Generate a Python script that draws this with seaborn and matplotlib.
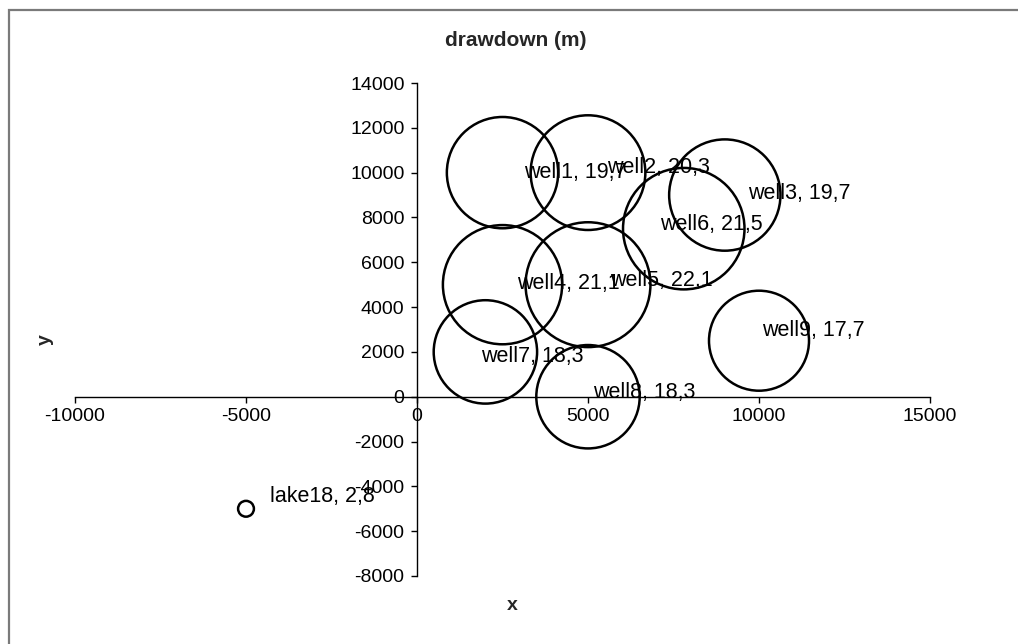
import matplotlib
matplotlib.use("Agg")
import matplotlib.pyplot as plt
import seaborn as sns
import pandas as pd
from matplotlib.patches import Rectangle
from matplotlib import font_manager

# ---- data ----
names = ["well1", "well2", "well3", "well4", "well5", "well6", "well7", "well8", "well9", "lake18"]
x_vals = [2500, 5000, 9000, 2500, 5000, 7800, 2000, 5000, 10000, -5000]
y_vals = [10000, 10000, 9000, 5000, 5000, 7500, 2000, 0, 2500, -5000]
drawdown = [19.7, 20.3, 19.7, 21.1, 22.1, 21.5, 18.3, 18.3, 17.7, 2.8]
x_ticks = [-10000, -5000, 0, 5000, 10000, 15000]
y_ticks = [-8000, -6000, -4000, -2000, 0, 2000, 4000, 6000, 8000, 10000, 12000, 14000]

# label offsets (pixels: right, down) — style only
label_dx = [22, 19, 23, 15, 22, -24, -4, 5, 3, 24]
label_dy = [0, -5, -2, -1, -4, -4, 5, -4, -10, -12]

df = pd.DataFrame({"name": names, "x": x_vals, "y": y_vals, "dd": drawdown})

sns.set_theme(style="white")
plt.rcParams["font.family"] = ["Liberation Sans", "DejaVu Sans"]

available = {f.name for f in font_manager.fontManager.ttflist}
narrow = "Liberation Sans Narrow" if "Liberation Sans Narrow" in available else "Liberation Sans"

DPI = 100
fig = plt.figure(figsize=(10.18, 6.44), dpi=DPI)
ax = fig.add_axes([75 / 1018, 1 - 576 / 644, (930 - 75) / 1018, (576 - 83) / 644])

PX2PT = 72 / DPI
diam_pt = [5.65 * v * PX2PT for v in drawdown]
sizes = [d ** 2 for d in diam_pt]

sns.scatterplot(data=df, x="x", y="y", s=sizes, facecolor="none",
                edgecolor="black", linewidth=1.8, ax=ax, legend=False, zorder=3)

for n, xv, yv, v, dx, dy in zip(names, x_vals, y_vals, drawdown, label_dx, label_dy):
    lab = f"{n}, {str(v).replace('.', ',')}"
    ax.annotate(lab, (xv, yv), xytext=(dx * PX2PT, -dy * PX2PT), textcoords="offset points",
                ha="left", va="center", fontsize=15.5, color="black", zorder=4)

ax.set_xlim(-10000, 15000)
ax.set_ylim(-8000, 14000)
ax.set_xticks(x_ticks)
ax.set_yticks(y_ticks)
ax.set_xticklabels([str(t) for t in x_ticks])
ax.set_yticklabels([str(t) for t in y_ticks])
ax.spines["left"].set_position(("data", 0))
ax.spines["bottom"].set_position(("data", 0))
ax.spines["top"].set_visible(False)
ax.spines["right"].set_visible(False)
for s in ("left", "bottom"):
    ax.spines[s].set_color("black")
    ax.spines[s].set_linewidth(1.0)
ax.tick_params(axis="both", direction="out", length=4, width=1.0, color="black",
               labelsize=14, labelcolor="black", left=True, bottom=True)
ax.tick_params(axis="y", pad=5)
ax.tick_params(axis="x", pad=4)
for lbl in ax.get_xticklabels() + ax.get_yticklabels():
    lbl.set_family([narrow, "DejaVu Sans"])
ax.set_xlabel("")
ax.set_ylabel("")
ax.grid(False)
ax.set_facecolor("none")

fig.text(516 / 1018, 1 - 40 / 644, "drawdown (m)", ha="center", va="center",
         fontsize=15, fontweight="bold", family=[narrow, "DejaVu Sans"])
fig.text(512 / 1018, 1 - 606 / 644, "x", ha="center", va="center",
         fontsize=14, fontweight="bold")
fig.text(45 / 1018, 1 - 340 / 644, "y", ha="center", va="center",
         fontsize=14, fontweight="bold", rotation=90)

fig.patches.append(Rectangle((9 / 1018, -0.1), 1.2, (1 - 10 / 644) + 0.1,
                             transform=fig.transFigure, fill=False,
                             edgecolor="#7a7a7a", linewidth=1.6))

fig.savefig("out.png", dpi=DPI)
